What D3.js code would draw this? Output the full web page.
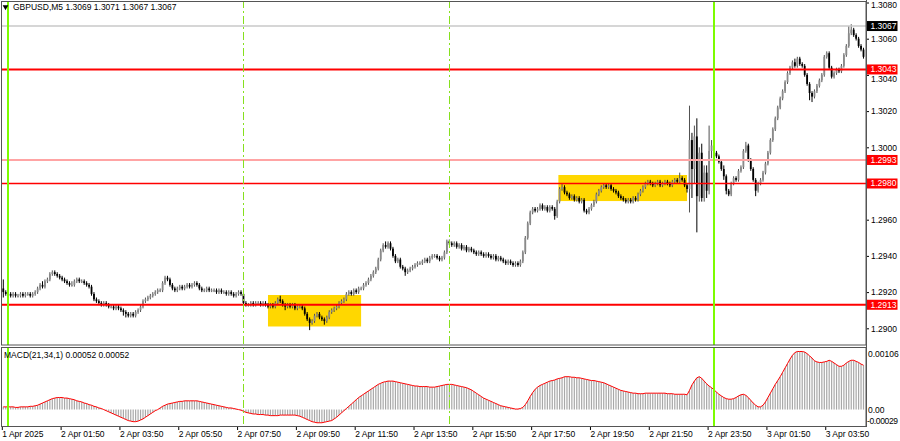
<!DOCTYPE html>
<html><head><meta charset="utf-8">
<script src="https://cdn.jsdelivr.net/npm/d3@7"></script>
<style>body{margin:0;background:#fff;} svg{display:block;font-family:"Liberation Sans",Arial,sans-serif;}</style>
</head><body><svg id="c" width="900" height="441"></svg>
<script>
// ---------------- DATA ----------------
const symbolTitle = "GBPUSD,M5  1.3069 1.3071 1.3067 1.3067";
const macdTitle = "MACD(21,34,1) 0.00052 0.00052";
const basePrice = 1.2900;          // close / wick values below are in pips above this
const firstOpen = 22;
// closes, one row per hour (5-minute bars), first row = 1 Apr 23:50, 23:55
const closeRows = [
  [20,19],
  [19,18,19,18,18,19,18,19,19,18,19,20],
  [22,24,23,26,27,30,31,30,29,28,27,26],
  [25,24,24,26,27,26,26,25,24,23,19,16],
  [15,14,13,14,13,12,12,11,12,11,10,9],
  [8,7,8,7,9,10,12,15,16,17,18,19],
  [20,21,21,25,28,27,24,22,21,22,23,22],
  [23,24,23,24,25,24,22,21,21,22,21,21],
  [21,20,21,20,20,19,20,19,18,19,20,19],
  [14,13,13,14,13,14,14,13,14,13,12,13],
  [12,14,16,15,13,12,13,12,13,11,12,12],
  [11,8,5,3,4,7,8,6,5,4,6,9],
  [10,11,12,14,15,16,19,20,19,21,20,22],
  [22,24,25,27,29,31,33,38,43,46,45,47],
  [44,40,37,38,34,33,31,32,33,34,35,36],
  [36,37,38,37,39,40,40,39,38,39,42,48],
  [47,46,47,45,46,44,45,43,44,43,42,41],
  [42,41,40,41,40,39,40,38,39,38,37,36],
  [37,36,35,36,35,37,42,50,58,64,66,65],
  [66,68,66,67,65,67,66,62,70,77,78,75],
  [74,72,73,71,72,70,71,65,64,66,68,70],
  [74,76,78,79,78,79,77,76,75,73,72,71],
  [70,71,70,72,71,74,76,78,80,81,80,79],
  [80,81,79,80,81,80,79,81,82,81,83,82],
  [79,77,104,88,106,73,97,72,86,76,98,101],
  [97,95,92,88,84,76,74,80,83,82,87,89],
  [98,101,93,88,82,76,80,82,86,91,97,104],
  [110,116,122,127,131,136,141,144,147,145,149,146],
  [145,140,135,130,128,131,134,137,140,150,152,144],
  [139,141,143,142,145,151,156,163,165,162,160,156],
  [154,150]
];
const wickUpRows = [
  [5,1],
  [1,1,1,1,1,1,1,1,1,1,1,1],
  [1,1,2,1,1,1,1,1,1,1,1,1],
  [1,1,2,1,1,1,1,1,1,1,1,1],
  [1,1,1,1,1,1,1,1,1,1,1,1],
  [1,1,1,1,1,1,1,1,1,1,1,1],
  [1,1,1,1,1,1,1,1,1,1,1,1],
  [1,1,1,1,1,1,1,1,1,1,1,1],
  [1,1,1,1,1,1,1,1,1,1,1,1],
  [1,1,1,1,1,1,1,1,1,1,1,1],
  [1,1,1,2,1,1,1,1,1,1,1,1],
  [1,1,1,1,1,1,1,1,1,1,1,1],
  [1,1,1,1,1,1,1,1,1,1,1,1],
  [1,1,1,1,1,1,1,1,1,1,2,1],
  [1,1,1,1,1,1,1,1,1,1,1,1],
  [1,1,1,1,1,1,1,1,1,1,1,1],
  [1,1,1,1,1,1,1,1,1,1,1,1],
  [1,1,1,1,1,1,1,1,1,1,1,1],
  [1,1,1,1,1,1,1,1,1,1,1,1],
  [1,1,1,1,1,1,1,1,1,1,2,1],
  [1,1,1,1,1,1,1,1,1,1,1,1],
  [1,1,1,1,1,1,1,1,1,1,1,1],
  [1,1,1,1,1,1,1,1,1,1,1,1],
  [1,1,1,1,1,1,1,1,1,1,3,1],
  [1,1,19,4,6,10,3,5,4,4,14,3],
  [1,1,1,1,2,1,1,1,1,1,1,1],
  [1,2,1,1,1,1,1,1,1,1,1,1],
  [1,1,1,1,1,1,1,1,1,2,1,1],
  [1,1,1,1,1,1,1,1,1,1,1,1],
  [1,1,1,1,1,1,1,4,3,1,1,1],
  [1,1]
];
const wickDnRows = [
  [3,1],
  [1,1,1,1,1,1,1,1,1,1,1,1],
  [1,1,1,1,1,1,1,1,1,1,1,1],
  [1,1,1,1,1,1,1,1,1,1,1,1],
  [1,1,1,1,1,1,1,1,1,1,1,2],
  [2,1,1,1,1,1,1,1,1,1,1,1],
  [1,1,1,1,1,1,1,1,1,1,1,1],
  [1,1,1,1,1,1,1,1,1,1,1,1],
  [1,1,1,1,1,1,1,1,1,1,1,1],
  [1,1,1,1,1,1,1,1,1,1,1,1],
  [1,1,1,1,1,2,1,1,1,1,1,1],
  [1,1,1,4,1,1,1,1,1,2,1,1],
  [1,1,1,1,1,1,1,1,1,1,1,1],
  [1,1,1,1,1,1,1,1,1,1,1,1],
  [1,1,1,1,1,1,2,1,1,1,1,1],
  [1,1,1,1,1,1,1,1,1,1,1,1],
  [1,1,1,1,1,1,1,1,1,1,1,1],
  [1,1,1,1,1,1,1,1,1,1,1,1],
  [1,1,1,1,1,1,1,1,1,1,1,1],
  [1,1,1,1,1,1,1,2,1,1,1,1],
  [1,1,1,1,1,1,1,1,1,1,1,1],
  [1,1,1,1,1,1,1,1,1,1,1,1],
  [1,1,1,1,1,1,1,1,1,1,1,1],
  [1,1,1,1,1,1,1,1,1,1,1,1],
  [1,2,13,16,8,20,3,2,2,4,2,4],
  [1,1,1,1,2,2,1,1,1,1,1,1],
  [1,1,1,1,1,3,1,1,1,1,1,1],
  [1,1,1,1,1,1,1,1,1,1,1,1],
  [1,1,1,4,3,1,1,1,1,1,1,1],
  [1,1,1,1,1,1,1,1,1,1,1,1],
  [1,1]
];
// MACD(21,34,1) main value per bar, in units of 0.00001
const macdRows = [
  [5,5],
  [5,5,5,4,4,5,5,5,5,6,6,7],
  [8,10,12,14,16,18,20,21,22,22,22,21],
  [21,20,19,18,16,15,14,12,11,9,8,6],
  [5,3,2,0,-2,-4,-6,-8,-10,-12,-14,-16],
  [-18,-20,-21,-22,-22,-21,-19,-17,-14,-11,-8,-5],
  [-2,0,3,6,8,10,11,12,13,14,15,15],
  [16,16,16,16,16,16,15,14,13,12,11,10],
  [9,8,7,6,5,4,3,3,2,1,0,-1],
  [-3,-5,-6,-7,-8,-8,-9,-9,-9,-10,-10,-11],
  [-11,-11,-11,-10,-10,-10,-10,-10,-10,-10,-11,-12],
  [-14,-16,-18,-20,-22,-23,-24,-24,-24,-23,-22,-21],
  [-20,-17,-14,-10,-6,-2,2,6,10,14,18,22],
  [25,28,31,34,37,40,43,46,48,50,51,52],
  [52,52,51,50,49,48,47,46,45,44,43,43],
  [42,42,42,42,41,41,41,42,43,44,45,46],
  [46,46,45,44,43,42,41,40,38,36,33,30],
  [27,24,21,19,17,15,13,11,9,7,6,5],
  [4,3,2,1,1,2,4,9,16,24,31,37],
  [41,44,46,48,50,52,53,54,56,57,58,60],
  [60,60,59,59,58,58,57,56,55,54,53,53],
  [52,51,50,49,47,45,43,41,39,37,35,34],
  [33,32,31,30,30,29,29,29,30,30,30,30],
  [30,30,30,30,30,29,29,29,28,28,28,28],
  [28,27,35,45,52,58,60,57,52,47,43,40],
  [36,32,28,25,22,20,19,19,20,22,25,27],
  [28,26,22,17,12,8,5,5,8,14,22,30],
  [38,46,53,60,68,76,84,92,99,104,106,106],
  [106,105,102,98,94,89,87,86,86,87,88,90],
  [88,85,82,79,79,81,85,88,90,90,88,86],
  [83,81]
];
const timeLabels = ["1 Apr 2025","2 Apr 01:50","2 Apr 03:50","2 Apr 05:50","2 Apr 07:50","2 Apr 09:50",
  "2 Apr 11:50","2 Apr 13:50","2 Apr 15:50","2 Apr 17:50","2 Apr 19:50","2 Apr 21:50","2 Apr 23:50",
  "3 Apr 01:50","3 Apr 03:50"];
const timeLabelBars = [0,24,48,72,96,120,144,168,192,216,240,264,288,312,336];
const priceTicks = [1.2900,1.2920,1.2940,1.2960,1.2980,1.3000,1.3020,1.3040,1.3060,1.3080];
const levelPrices = [1.3067, 1.3043, 1.2993, 1.2980, 1.2913];
const dayStartBars = [2, 290];
const sessionBars = [98, 182];
const zoneBars = [[108, 146], [226.5, 279]];
const zonePrices = [[1.29184, 1.2901], [1.29847, 1.29703]];
const macdMax = 0.00106, macdMin = -0.00029;

// ---------------- BUILD ----------------
const closes = closeRows.flat(), wu = wickUpRows.flat(), wd = wickDnRows.flat(), macd = macdRows.flat();
const bars = closes.map((c, i) => {
  const o = i === 0 ? firstOpen : closes[i-1];
  return {i, o, c, h: Math.max(o,c) + wu[i], l: Math.min(o,c) - wd[i]};
});
const P = v => basePrice + v / 10000;

const svg = d3.select("#c");
const axisX = 866;
const x = d3.scaleLinear().domain([0, 351]).range([3.3, 3.3 + 351 * 2.4507]);
const y = d3.scaleLinear().domain([1.2900, 1.3080]).range([328.3, 2.5]);
const yM = d3.scaleLinear().domain([macdMin, macdMax]).range([425.5, 351.5]);
const snap = v => Math.round(v) + 0.5;

const defs = svg.append("defs");
defs.append("clipPath").attr("id","cpMain").append("rect").attr("x",2).attr("y",2).attr("width",axisX-2).attr("height",343);
defs.append("clipPath").attr("id","cpMacd").append("rect").attr("x",2).attr("y",348).attr("width",axisX-2).attr("height",79);

// zones
const gMain = svg.append("g").attr("clip-path","url(#cpMain)");
gMain.selectAll("rect.zone").data(zoneBars).join("rect").attr("class","zone")
  .attr("x", d => x(d[0])).attr("width", d => x(d[1]) - x(d[0]))
  .attr("y", (d,k) => y(zonePrices[k][0])).attr("height", (d,k) => y(zonePrices[k][1]) - y(zonePrices[k][0]))
  .attr("fill", "#ffd700");

// candles
const cg = gMain.append("g");
cg.selectAll("line.wick").data(bars).join("line").attr("class","wick")
  .attr("x1", d => x(d.i)).attr("x2", d => x(d.i))
  .attr("y1", d => y(P(d.h))).attr("y2", d => y(P(d.l)))
  .attr("stroke", d => d.c >= d.o ? "#505050" : "#000").attr("stroke-width", 1);
cg.selectAll("rect.body").data(bars).join("rect").attr("class","body")
  .attr("x", d => x(d.i) - 0.9).attr("width", 1.8)
  .attr("y", d => y(P(Math.max(d.o,d.c))))
  .attr("height", d => Math.max(1, y(P(Math.min(d.o,d.c))) - y(P(Math.max(d.o,d.c)))))
  .attr("fill", d => d.c >= d.o ? "#8a8a8a" : "#000");

// MACD
const gM = svg.append("g").attr("clip-path","url(#cpMacd)");
gM.selectAll("line.hist").data(macd).join("line").attr("class","hist")
  .attr("x1", (d,i) => x(i)).attr("x2", (d,i) => x(i))
  .attr("y1", yM(0)).attr("y2", d => yM(d / 100000))
  .attr("stroke", "#a8a8a8").attr("stroke-width", 1.2);
gM.append("path").datum(macd)
  .attr("d", d3.line().x((d,i) => x(i)).y(d => yM(d / 100000)))
  .attr("fill","none").attr("stroke","#ff0000").attr("stroke-width",1);

// vertical lines across both panels
[["cpMain"],["cpMacd"]].forEach(([cp]) => {
  const g = svg.append("g").attr("clip-path", `url(#${cp})`);
  g.selectAll("line.day").data(dayStartBars).join("line")
    .attr("x1", d => Math.round(x(d))).attr("x2", d => Math.round(x(d))).attr("y1", 0).attr("y2", 430)
    .attr("stroke", "#7cfc00").attr("stroke-width", 2);
  g.selectAll("line.sess").data(sessionBars).join("line")
    .attr("x1", d => snap(x(d))).attr("x2", d => snap(x(d))).attr("y1", 0).attr("y2", 430)
    .attr("stroke", "#86e01e").attr("stroke-width", 1).attr("stroke-dasharray", "8,3,2,3")
    .attr("shape-rendering", "crispEdges");
});

// horizontal levels
const levelStyle = [
  {stroke:"#c8c8c8", w:1.5, box:"#000"},
  {stroke:"#ff0000", w:2, box:"#ff0000"},
  {stroke:"#ffa4a4", w:2, box:"#ff0000"},
  {stroke:"#ff0000", w:1.5, box:"#ff0000"},
  {stroke:"#ff0000", w:2, box:"#ff0000"}
];
gMain.selectAll("line.lvl").data(levelPrices).join("line").attr("class","lvl")
  .attr("x1", 2).attr("x2", axisX).attr("y1", d => y(d)).attr("y2", d => y(d))
  .attr("stroke", (d,k) => levelStyle[k].stroke).attr("stroke-width", (d,k) => levelStyle[k].w);

// frames
svg.append("rect").attr("x",1.5).attr("y",1.5).attr("width",axisX-1.5).attr("height",343.5)
  .attr("fill","none").attr("stroke","#555").attr("stroke-width",1);
svg.append("rect").attr("x",1.5).attr("y",347.5).attr("width",axisX-1.5).attr("height",79)
  .attr("fill","none").attr("stroke","#555").attr("stroke-width",1);

// price axis
const pa = svg.append("g").attr("transform", `translate(${axisX},0)`)
  .call(d3.axisRight(y).tickValues(priceTicks).tickSize(3).tickPadding(2).tickFormat(d3.format(".4f")));
pa.select(".domain").remove();
pa.selectAll("text").attr("font-size", 8.5).attr("fill", "#000").attr("font-family", "Liberation Sans, Arial, sans-serif");
pa.selectAll(".tick").filter(d => d === 1.3080).select("text").attr("dy", "0.6em");
pa.selectAll(".tick").filter(d => d === 1.3040).select("text").attr("dy", "0.75em");
pa.selectAll("line").attr("stroke", "#000");

// level boxes
const lb = svg.append("g");
levelPrices.forEach((p, k) => {
  lb.append("rect").attr("x", axisX + 0.5).attr("y", y(p) - 5).attr("width", 31).attr("height", 10).attr("fill", levelStyle[k].box);
  lb.append("text").attr("x", axisX + 4.5).attr("y", y(p)).attr("dy", "0.35em")
    .attr("font-size", 8.5).attr("fill", "#fff").text(d3.format(".4f")(p));
});

// MACD axis labels
const ml = svg.append("g").attr("font-size", 8.5).attr("fill", "#000");
ml.append("text").attr("x", axisX + 2).attr("y", yM(macdMax) + 2.5).attr("dy","0.35em").text(macdMax.toFixed(5));
ml.append("text").attr("x", axisX + 2).attr("y", yM(0)).attr("dy","0.35em").text("0.00");
ml.append("text").attr("x", axisX + 1).attr("y", yM(macdMin) - 4).attr("dy","0.35em").attr("textLength", 31).text(macdMin.toFixed(5));

// right axis line
svg.append("line").attr("x1", axisX + 0.5).attr("x2", axisX + 0.5).attr("y1", 0).attr("y2", 427).attr("stroke", "#555");

// time axis
const ta = svg.append("g").attr("transform", "translate(-1.5,427)")
  .call(d3.axisBottom(x).tickValues(timeLabelBars).tickSize(3).tickPadding(1).tickFormat((d,k) => timeLabels[k]));
ta.select(".domain").remove();
ta.selectAll("text").attr("text-anchor","start").attr("font-size", 8.5).attr("fill","#000")
  .attr("font-family","Liberation Sans, Arial, sans-serif").attr("dy","0.71em");
ta.selectAll("line").attr("stroke","#000");

// titles
svg.append("path").attr("d", d3.symbol(d3.symbolTriangle, 14)()).attr("transform","translate(5.5,7) rotate(180)").attr("fill","#000");
svg.append("text").attr("x", 13).attr("y", 7).attr("dy","0.35em").attr("font-size", 8.5).attr("fill","#000").text(symbolTitle);
svg.append("text").attr("x", 4).attr("y", 355).attr("dy","0.35em").attr("font-size", 8.5).attr("fill","#000").text(macdTitle);
</script></body></html>
